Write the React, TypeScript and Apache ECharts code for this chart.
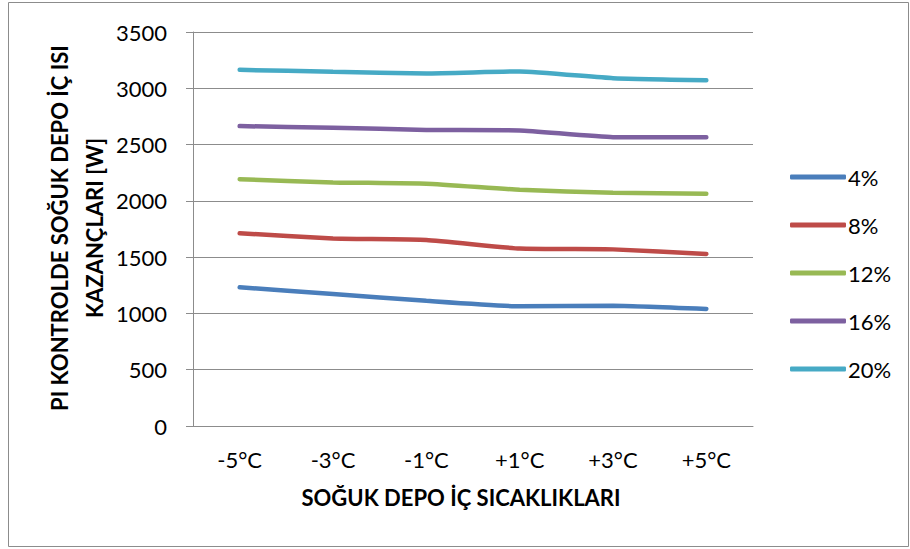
import React, { useEffect, useRef } from "react";
import * as echarts from "echarts";

// Cold-store inner temperatures (categories)
const temperatures = ["-5°C", "-3°C", "-1°C", "+1°C", "+3°C", "+5°C"];

// Heat gains under PI control [W] for each opening ratio
const gain4 = [1232, 1172, 1112, 1063, 1069, 1040];
const gain8 = [1712, 1666, 1653, 1576, 1569, 1528];
const gain12 = [2192, 2164, 2152, 2098, 2072, 2064];
const gain16 = [2664, 2650, 2630, 2626, 2566, 2566];
const gain20 = [3164, 3146, 3132, 3150, 3090, 3072];

const seriesNames = ["4%", "8%", "12%", "16%", "20%"];
const seriesData = [gain4, gain8, gain12, gain16, gain20];
const seriesColors = ["#4A7EBB", "#BE4B48", "#98B954", "#7D60A0", "#46AAC5"];

const yTicks = { min: 0, max: 3500, interval: 500 };

// Y-axis title, drawn as two rotated lines
const yTitleLines = ["PI KONTROLDE SOĞUK DEPO İÇ ISI", "KAZANÇLARI [W]"];

const FONT = "Lato, 'Open Sans', sans-serif";

export default function App() {
  const ref = useRef<HTMLDivElement>(null);

  useEffect(() => {
    document.body.style.margin = "0";
    if (!ref.current) return;
    const chart = echarts.init(ref.current, undefined, { renderer: "svg" });

    // one legend block per series, stacked at a fixed pitch
    const legends = seriesNames.map((name, i) => ({
      orient: "vertical",
      left: 790,
      top: 164 + i * 48,
      padding: 0,
      itemWidth: 56,
      itemHeight: 5,
      icon: "roundRect",
      data: [name],
      textStyle: {
        fontSize: 22,
        lineHeight: 26,
        color: "#000",
        fontFamily: FONT,
        padding: [0, 0, 0, -3],
      },
    }));

    const yTitle = yTitleLines.map((line, i) => ({
      type: "text",
      x: 59 + i * 35,
      y: 228,
      rotation: Math.PI / 2,
      style: {
        text: line,
        align: "center",
        verticalAlign: "middle",
        fontSize: 22,
        fontWeight: "bold",
        fontFamily: FONT,
        fill: "#000000",
      },
    }));

    chart.setOption({
      animation: false,
      backgroundColor: "#ffffff",
      textStyle: { fontFamily: FONT },
      graphic: [
        {
          type: "rect",
          shape: { x: 8.5, y: 2.5, width: 900, height: 544 },
          style: { fill: "none", stroke: "#8c8c8c", lineWidth: 1 },
          silent: true,
        },
        ...yTitle,
      ],
      grid: { left: 193, right: 157, top: 32, bottom: 123, containLabel: false },
      legend: legends,
      xAxis: {
        type: "category",
        data: temperatures,
        boundaryGap: true,
        axisLine: { lineStyle: { color: "#8c8c8c", width: 1 } },
        axisTick: { show: false },
        axisLabel: { color: "#000", fontSize: 22, margin: 22, fontFamily: FONT },
        name: "SOĞUK DEPO İÇ SICAKLIKLARI",
        nameLocation: "middle",
        nameGap: 60,
        nameTextStyle: {
          color: "#000",
          fontSize: 22,
          fontWeight: "bold",
          fontFamily: FONT,
          padding: [0, 24, 0, 0],
        },
      },
      yAxis: {
        type: "value",
        min: yTicks.min,
        max: yTicks.max,
        interval: yTicks.interval,
        axisLine: { show: true, lineStyle: { color: "#8c8c8c", width: 1 } },
        axisTick: { show: true, length: 7, lineStyle: { color: "#8c8c8c" } },
        splitLine: { lineStyle: { color: "#8c8c8c", width: 1 } },
        axisLabel: {
          color: "#000",
          fontSize: 22,
          margin: 26,
          fontFamily: FONT,
          formatter: (v: number) => String(v),
        },
      },
      series: seriesNames.map((name, i) => ({
        name,
        type: "line",
        data: seriesData[i],
        smooth: 0.15,
        showSymbol: false,
        symbol: "none",
        color: seriesColors[i],
        lineStyle: { width: 4.5, color: seriesColors[i], cap: "round" },
      })),
    });

    return () => chart.dispose();
  }, []);

  return <div ref={ref} style={{ width: 910, height: 549 }} />;
}
